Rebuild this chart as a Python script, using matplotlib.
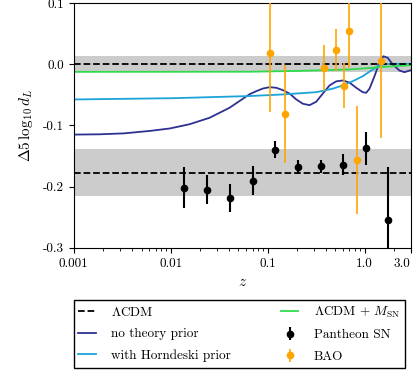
import numpy as np
import matplotlib
matplotlib.use("Agg")
from matplotlib import pyplot as plt

plt.rcParams['font.family'] = ['cmr10', 'DejaVu Serif']
plt.rcParams['mathtext.fontset'] = 'cm'
plt.rcParams['axes.unicode_minus'] = False
plt.rcParams['axes.formatter.use_mathtext'] = True

# best-fit curves
z_navy = [0.001, 0.00185, 0.00328, 0.00608, 0.00977, 0.0157, 0.0252, 0.0406, 0.0652, 0.0765, 0.0895,
          0.1049, 0.123, 0.1439, 0.1686, 0.1977, 0.2312, 0.271, 0.3177, 0.3717, 0.4355, 0.5107, 0.5975,
          0.700, 0.821, 0.960, 1.041, 1.126, 1.268, 1.429, 1.570, 1.738, 1.958, 2.295, 2.584, 3.0]
y_navy = [-0.115, -0.1145, -0.113, -0.109, -0.105, -0.098, -0.0875, -0.071, -0.049, -0.044, -0.0397,
          -0.0375, -0.0385, -0.0424, -0.048, -0.0576, -0.0646, -0.0669, -0.0613, -0.0478, -0.0347, -0.028,
          -0.0266, -0.030, -0.0385, -0.0457, -0.0467, -0.040, -0.0196, 0.0033, 0.013, 0.0104, -0.0005,
          -0.0103, -0.013, -0.0098]

z_cyan = [0.001, 0.0107, 0.0652, 0.1439, 0.3177, 0.469, 0.5975, 0.757, 0.960, 1.218, 1.429, 1.81, 3.0]
y_cyan = [-0.0576, -0.0555, -0.052, -0.0494, -0.0457, -0.040, -0.0347, -0.0277, -0.0196, -0.0086,
          -0.0016, 0.0006, 0.0006]

z_green = [0.001, 0.0652, 0.2, 0.7, 1.6, 3.0]
y_green = [-0.0125, -0.0123, -0.011, -0.0086, -0.0043, -0.0016]

# Pantheon SN binned
z_sn = [0.0138, 0.0237, 0.0406, 0.070, 0.119, 0.205, 0.352, 0.603, 1.031, 1.767]
y_sn = [-0.2016, -0.205, -0.219, -0.190, -0.1397, -0.168, -0.167, -0.164, -0.137, -0.255]
e_sn = [0.034, 0.024, 0.023, 0.024, 0.0135, 0.011, 0.011, 0.017, 0.027, 0.0876]

# BAO
z_bao = [0.106, 0.15, 0.38, 0.51, 0.61, 0.698, 0.845, 1.48]
y_bao = [0.019, -0.082, -0.006, 0.0235, -0.035, 0.055, -0.156, 0.006]
e_bao = [0.097, 0.080, 0.037, 0.034, 0.037, 0.061, 0.088, 0.126]

# reference levels and bands
lcdm_top = 0.0
band_top = 0.013
lcdm_sn = -0.177
band_sn = 0.038

xticks = [0.001, 0.01, 0.1, 1.0, 3.0]
xticklabels = ["0.001", "0.01", "0.1", "1.0", "3.0"]
yticks = [0.1, 0.0, -0.1, -0.2, -0.3]
yticklabels = ["0.1", "0.0", "-0.1", "-0.2", "-0.3"]

fig = plt.figure(figsize=(4.15, 3.71), dpi=100)
ax = fig.add_axes([0.178, 0.332, 0.8117, 0.6599])

ax.axhspan(lcdm_top - band_top, lcdm_top + band_top, color='#cccccc', lw=0, zorder=0)
ax.axhspan(lcdm_sn - band_sn, lcdm_sn + band_sn, color='#cccccc', lw=0, zorder=0)
l_lcdm, = ax.plot([0.001, 3.0], [lcdm_top, lcdm_top], 'k--', lw=1.3, zorder=3)
ax.plot([0.001, 3.0], [lcdm_sn, lcdm_sn], 'k--', lw=1.3, zorder=3)

l_navy, = ax.plot(z_navy, y_navy, color='#2e3192', lw=1.3, zorder=2)
l_cyan, = ax.plot(z_cyan, y_cyan, color='#1ba3d9', lw=1.3, zorder=2)
l_green, = ax.plot(z_green, y_green, color='#2edb4b', lw=1.3, zorder=2)

e1 = ax.errorbar(z_sn, y_sn, yerr=e_sn, fmt='o', color='black', ms=4.5, elinewidth=1.5, zorder=4)
e2 = ax.errorbar(z_bao, y_bao, yerr=e_bao, fmt='o', color='orange', ms=4.5, elinewidth=1.2, zorder=4)

ax.set_xscale('log')
ax.set_xlim(0.001, 3.0)
ax.set_ylim(-0.3, 0.1)
ax.set_xticks(xticks)
ax.set_xticklabels(xticklabels)
ax.get_xticklabels()[-1].set_horizontalalignment('right')
ax.set_yticks(yticks)
ax.set_yticklabels(yticklabels)
ax.tick_params(labelsize=9.5)
ax.set_xlabel(r"$z$", fontsize=11)
ax.set_ylabel(r"$\Delta 5\,\log_{10} d_L$", fontsize=11, labelpad=6)

fig.legend([l_lcdm, l_navy, l_cyan, l_green, e1, e2],
           [r"$\Lambda$CDM", "no theory prior", "with Horndeski prior",
            r"$\Lambda$CDM + $M_{\rm SN}$", "Pantheon SN", "BAO"],
           loc='upper left', bbox_to_anchor=(0.178, 0.191, 0.798, 0.0), mode='expand', ncol=2,
           fontsize=9.5, frameon=True, fancybox=False, edgecolor='black', framealpha=1,
           handlelength=1.3, handletextpad=1.2, labelspacing=0.7, borderpad=0.35, borderaxespad=0)

fig.savefig("out.png", dpi=100)
